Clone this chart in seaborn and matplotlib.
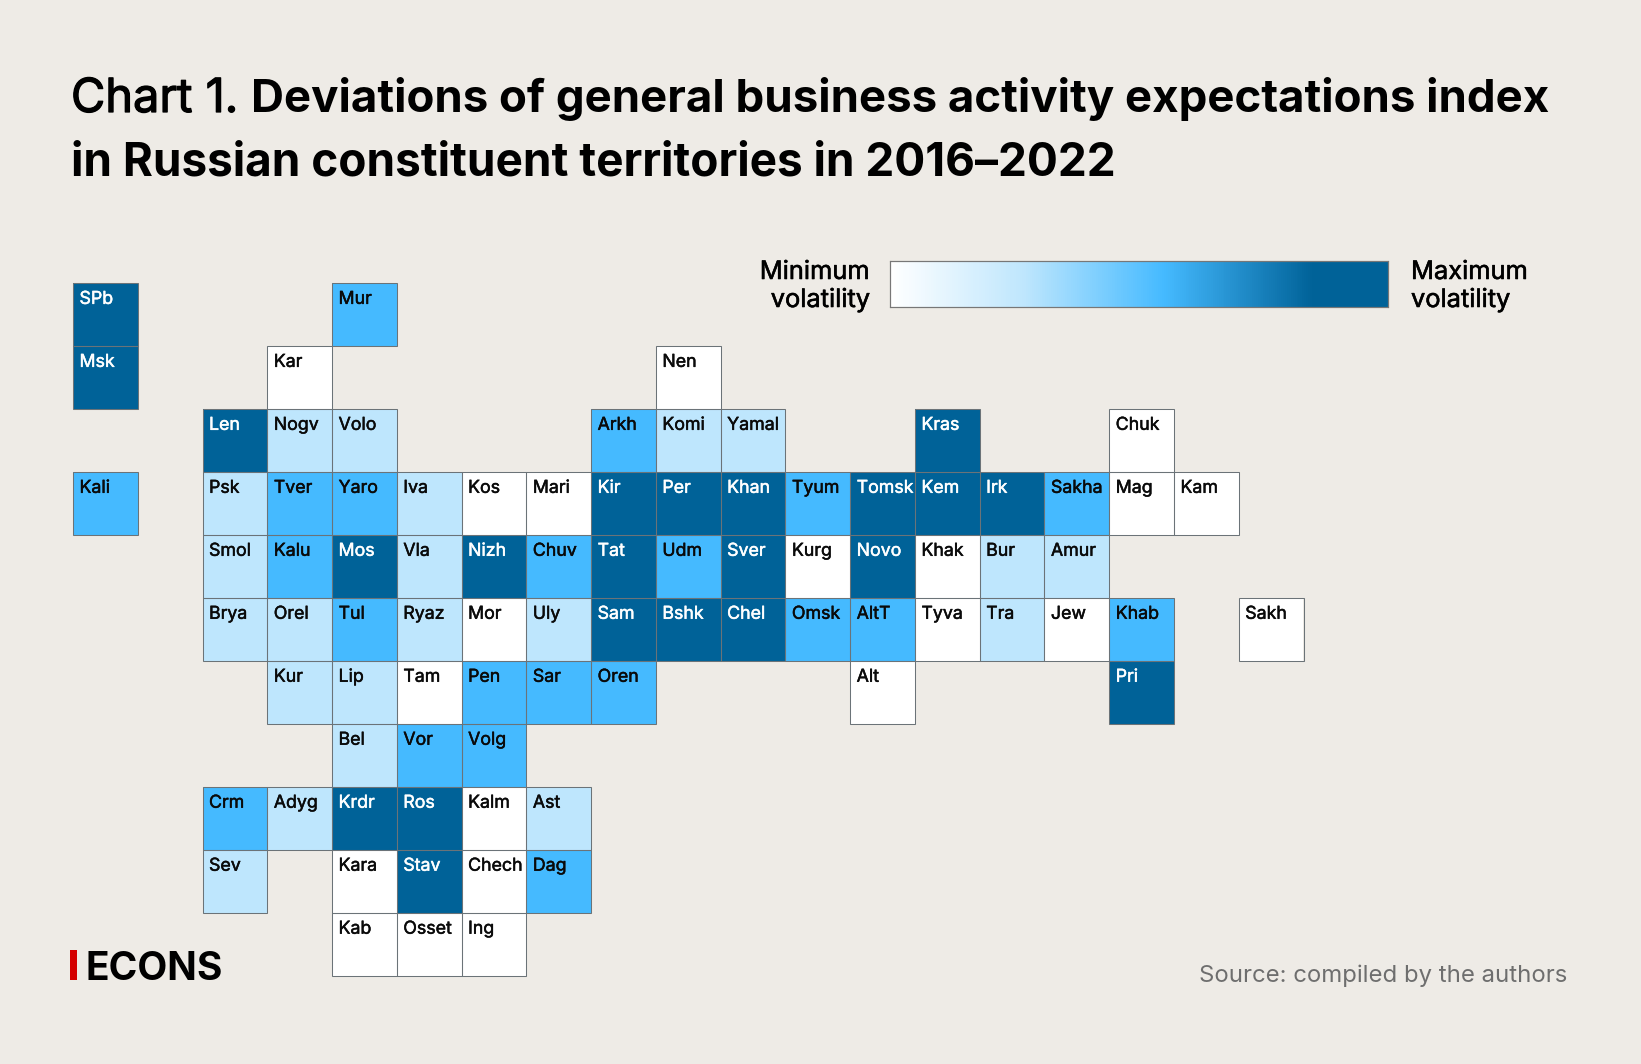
import numpy as np
import pandas as pd
import matplotlib
matplotlib.use('Agg')
import matplotlib.pyplot as plt
import matplotlib.patheffects as pe
from matplotlib.colors import LinearSegmentedColormap
from matplotlib.patches import Rectangle
import seaborn as sns

# one list per row of the tile map: (label, column, volatility on the 0-1 legend scale)
WHITE, LIGHT, MID, DARK = 0.0, 0.27, 0.55, 0.85

row0 = [('SPb', 0, DARK), ('Mur', 4, MID)]
row1 = [('Msk', 0, DARK), ('Kar', 3, WHITE), ('Nen', 9, WHITE)]
row2 = [('Len', 2, DARK), ('Nogv', 3, LIGHT), ('Volo', 4, LIGHT), ('Arkh', 8, MID), ('Komi', 9, LIGHT),
        ('Yamal', 10, LIGHT), ('Kras', 13, DARK), ('Chuk', 16, WHITE)]
row3 = [('Kali', 0, MID), ('Psk', 2, LIGHT), ('Tver', 3, MID), ('Yaro', 4, MID), ('Iva', 5, LIGHT),
        ('Kos', 6, WHITE), ('Mari', 7, WHITE), ('Kir', 8, DARK), ('Per', 9, DARK), ('Khan', 10, DARK),
        ('Tyum', 11, MID), ('Tomsk', 12, DARK), ('Kem', 13, DARK), ('Irk', 14, DARK), ('Sakha', 15, MID),
        ('Mag', 16, WHITE), ('Kam', 17, WHITE)]
row4 = [('Smol', 2, LIGHT), ('Kalu', 3, MID), ('Mos', 4, DARK), ('Vla', 5, LIGHT), ('Nizh', 6, DARK),
        ('Chuv', 7, MID), ('Tat', 8, DARK), ('Udm', 9, MID), ('Sver', 10, DARK), ('Kurg', 11, WHITE),
        ('Novo', 12, DARK), ('Khak', 13, WHITE), ('Bur', 14, LIGHT), ('Amur', 15, LIGHT)]
row5 = [('Brya', 2, LIGHT), ('Orel', 3, LIGHT), ('Tul', 4, MID), ('Ryaz', 5, LIGHT), ('Mor', 6, WHITE),
        ('Uly', 7, LIGHT), ('Sam', 8, DARK), ('Bshk', 9, DARK), ('Chel', 10, DARK), ('Omsk', 11, MID),
        ('AltT', 12, MID), ('Tyva', 13, WHITE), ('Tra', 14, LIGHT), ('Jew', 15, WHITE), ('Khab', 16, MID),
        ('Sakh', 18, WHITE)]
row6 = [('Kur', 3, LIGHT), ('Lip', 4, LIGHT), ('Tam', 5, WHITE), ('Pen', 6, MID), ('Sar', 7, MID),
        ('Oren', 8, MID), ('Alt', 12, WHITE), ('Pri', 16, DARK)]
row7 = [('Bel', 4, LIGHT), ('Vor', 5, MID), ('Volg', 6, MID)]
row8 = [('Crm', 2, MID), ('Adyg', 3, LIGHT), ('Krdr', 4, DARK), ('Ros', 5, DARK), ('Kalm', 6, WHITE),
        ('Ast', 7, LIGHT)]
row9 = [('Sev', 2, LIGHT), ('Kara', 4, WHITE), ('Stav', 5, DARK), ('Chech', 6, WHITE), ('Dag', 7, MID)]
row10 = [('Kab', 4, WHITE), ('Osset', 5, WHITE), ('Ing', 6, WHITE)]
rows = [row0, row1, row2, row3, row4, row5, row6, row7, row8, row9, row10]

W, H = 1641, 1064
BG = '#eeebe6'
EDGE = '#6b7378'
plt.rcParams['font.family'] = ['Inter', 'DejaVu Sans']

records = [(r, c, name, v) for r, row in enumerate(rows) for name, c, v in row]
df = pd.DataFrame(records, columns=['row', 'col', 'name', 'value'])
grid = df.pivot(index='row', columns='col', values='value').reindex(index=range(11), columns=range(19))

cmap = LinearSegmentedColormap.from_list('vol', [(0, '#ffffff'), (0.27, '#bee6fd'), (0.55, '#45baff'),
                                                 (0.85, '#006298'), (1, '#006298')])


def box(x0, y0, x1, y1):
    return [x0 / W, 1 - y1 / H, (x1 - x0) / W, (y1 - y0) / H]


def heavier(color, w):
    # Inter has no medium cut here, a thin stroke gets close
    return [pe.withStroke(linewidth=w, foreground=color)]


fig = plt.figure(figsize=(W / 100, H / 100), dpi=100, facecolor=BG)
ax = fig.add_axes(box(73.0, 283.0, 1303.5, 975.8))
cax = fig.add_axes(box(889.7, 260.5, 1388.0, 306.5))
sns.heatmap(grid, ax=ax, cmap=cmap, vmin=0, vmax=1, linewidths=0,
            cbar_ax=cax, cbar_kws={'orientation': 'horizontal', 'ticks': []}, xticklabels=False, yticklabels=False)
ax.set_xlabel('')
ax.set_ylabel('')
ax.patch.set_alpha(0)
cax.patch.set_alpha(0)
for s in cax.spines.values():
    s.set_visible(True)
    s.set_edgecolor('#777777')
    s.set_linewidth(0.8)

# heatmap linewidths also outlines the empty cells, so outline the tiles one by one
for _, t in df.iterrows():
    ax.add_patch(Rectangle((t['col'], t['row']), 1, 1, fill=False, ec=EDGE, lw=0.75, clip_on=False))
for _, t in df.iterrows():
    col = 'white' if t['value'] == DARK else '#0a0a0a'
    ax.text(t['col'] + 0.1, t['row'] + 0.125, t['name'], fontsize=12.8, va='top', ha='left', color=col,
            path_effects=heavier(col, 0.35))


def txt(x, y, s, **kw):
    return fig.text(x / W, 1 - y / H, s, **kw)


# title: first two words lighter than the rest
txt(71, 112, 'Chart 1.', fontsize=33.8, color='black', path_effects=heavier('black', 0.9))
txt(251, 112, 'Deviations of general business activity expectations index', fontsize=32.85,
    fontweight='bold', color='black')
txt(71, 176, 'in Russian constituent territories in 2016–2022', fontsize=33.05, fontweight='bold', color='black')

# legend captions
for x, ha, top in [(870, 'right', 'Minimum'), (1411, 'left', 'Maximum')]:
    txt(x, 279, top, fontsize=18.3, ha=ha, color='black', path_effects=heavier('black', 0.4))
    txt(x, 307, 'volatility', fontsize=18.3, ha=ha, color='black', path_effects=heavier('black', 0.4))

# logo and source
fig.add_artist(Rectangle((70 / W, 1 - 980 / H), 6.5 / W, 30 / H, transform=fig.transFigure, color='#d40000', lw=0))
txt(86, 980, 'ECONS', fontsize=28, fontweight='bold', color='black')
txt(1567, 982, 'Source: compiled by the authors', fontsize=17.2, ha='right', color='#6e6e6e')

fig.savefig('out.png', dpi=100, facecolor=BG)
